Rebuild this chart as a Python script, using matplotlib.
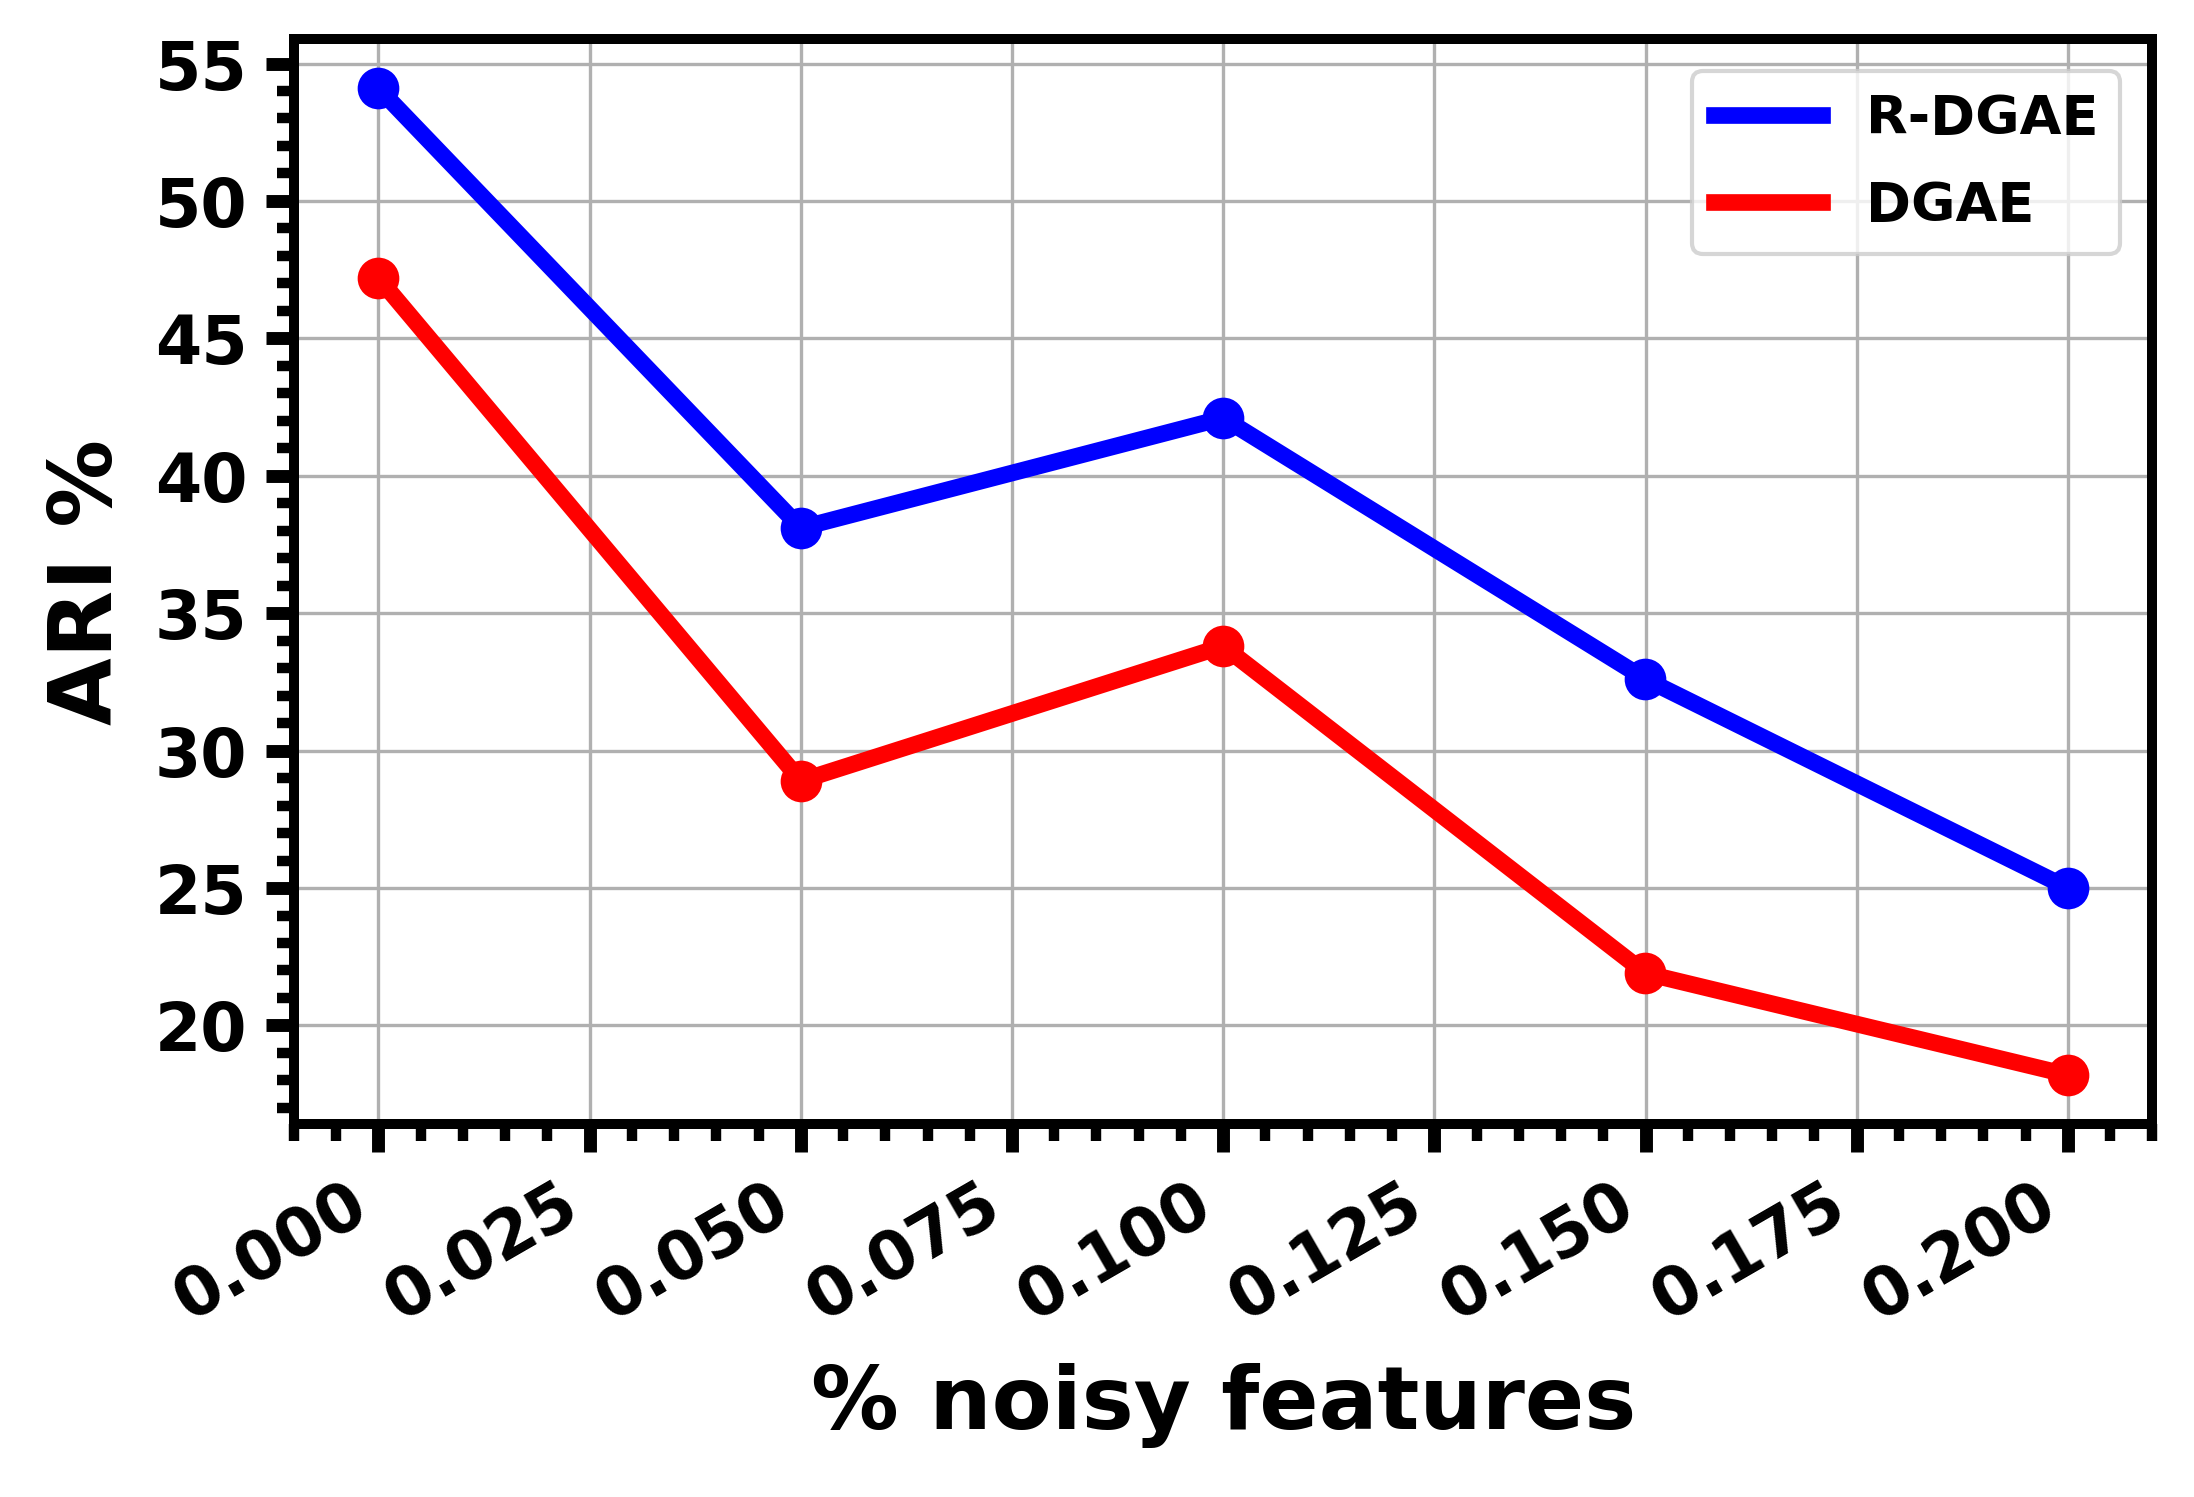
import matplotlib
matplotlib.use("Agg")
import matplotlib.pyplot as plt
from matplotlib.ticker import MultipleLocator

noise = [0.0, 0.05, 0.10, 0.15, 0.20]
r_dgae = [54.1, 38.1, 42.1, 32.6, 25.0]
dgae = [47.2, 28.9, 33.8, 21.9, 18.2]

dpi = 300
fig = plt.figure(figsize=(2194 / dpi, 1497 / dpi), dpi=dpi)
ax = fig.add_axes([0.134, 0.249, 0.847, 0.725])

ax.plot(noise, r_dgae, color="blue", lw=4, label="R-DGAE", zorder=3)
ax.plot(noise, dgae, color="red", lw=4, label="DGAE", zorder=3)
ax.plot(noise, r_dgae, "o", color="blue", ms=9, zorder=4)
ax.plot(noise, dgae, "o", color="red", ms=9, zorder=4)

ax.grid(True, color="#b0b0b0", lw=0.8)
ax.set_axisbelow(True)

ax.xaxis.set_major_locator(MultipleLocator(0.025))
ax.xaxis.set_minor_locator(MultipleLocator(0.005))
ax.yaxis.set_major_locator(MultipleLocator(5))
ax.yaxis.set_minor_locator(MultipleLocator(1))

ax.tick_params(which="major", length=6.7, width=3.1, labelsize=16, pad=4.5)
ax.tick_params(which="minor", length=4.1, width=2.5)
for lab in ax.get_xticklabels() + ax.get_yticklabels():
    lab.set_fontweight("bold")
for lab in ax.get_xticklabels():
    lab.set_rotation(30)
    lab.set_ha("right")

for s in ax.spines.values():
    s.set_linewidth(2.4)

ax.set_xlabel("% noisy features", fontsize=21, fontweight="bold", labelpad=7)
ax.set_ylabel("ARI %", fontsize=21, fontweight="bold", labelpad=6)

leg = ax.legend(loc="upper right", prop={"weight": "bold", "size": 13},
                labelspacing=0.65, borderaxespad=0.6)

fig.savefig("out.png", dpi=dpi)
